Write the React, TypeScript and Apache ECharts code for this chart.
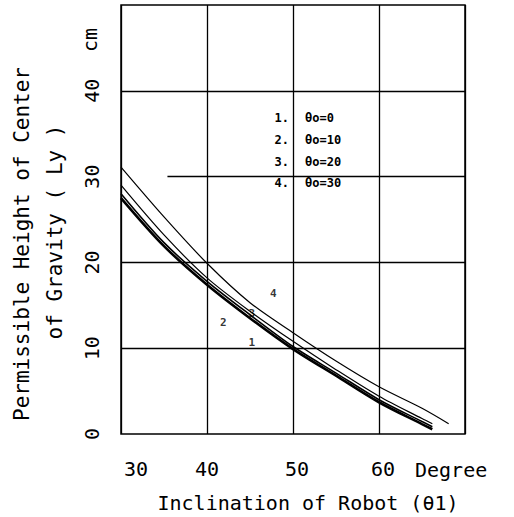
import React, { useEffect, useRef } from "react";
import * as echarts from "echarts";

const xTicks = [30, 40, 50, 60];
const yTicks = [0, 10, 20, 30, 40];

const curveX = [30, 35, 40, 45, 50, 55, 60, 65];
const curve1Y = [27.5, 21.9, 17.4, 13.5, 9.9, 6.8, 3.7, 1.15];
const curve2Y = [28.0, 22.3, 17.8, 13.9, 10.2, 7.1, 4.0, 1.45];
const curve3Y = [29.0, 23.2, 18.2, 14.3, 10.8, 7.5, 4.4, 1.8];
const curve4Y = [31.1, 25.3, 19.9, 15.3, 11.8, 8.5, 5.5, 3.0];
const curveEnds = [
  [66.2, 0.55],
  [66.2, 0.85],
  [66.2, 1.2],
  [68.1, 1.2],
];
const curveWidths = [2.6, 1.6, 1.2, 1.2];

const curveNumbers = ["1", "2", "3", "4"];
const curveLabelX = [45.2, 41.9, 45.2, 47.7];
const curveLabelY = [10.7, 13.0, 14.1, 16.4];

const legendNumbers = ["1.", "2.", "3.", "4."];
const legendLabels = ["θo=0", "θo=10", "θo=20", "θo=30"];

const fullGridY = [10, 20, 40];
const partialGridY = 30;
const partialGridStartX = 35.4;

const xTitle = "Inclination of Robot (θ1)";
const yTitle1 = "Permissible Height of Center";
const yTitle2 = "of Gravity ( Ly )";

const FONT = "DejaVu Sans Mono";

export default function App() {
  const ref = useRef<HTMLDivElement>(null);
  useEffect(() => {
    if (!ref.current) return;
    const chart = echarts.init(ref.current, null, { renderer: "svg" });
    const curves = [curve1Y, curve2Y, curve3Y, curve4Y];
    const series: any[] = curves.map((ys, i) => ({
      type: "line",
      name: legendLabels[i],
      data: [...curveX.map((x, j) => [x, ys[j]]), curveEnds[i]],
      smooth: 0.3,
      showSymbol: false,
      symbol: "none",
      lineStyle: { color: "#000", width: curveWidths[i] },
      silent: true,
      z: 3,
    }));
    series.push({
      type: "scatter",
      data: curveNumbers.map((n, i) => [curveLabelX[i], curveLabelY[i], n]),
      symbolSize: 0,
      silent: true,
      label: {
        show: true,
        position: "inside",
        formatter: (p: any) => p.data[2],
        color: "#000",
        fontFamily: FONT,
        fontWeight: "bold",
        fontSize: 11,
      },
      markLine: {
        silent: true,
        symbol: "none",
        label: { show: false },
        lineStyle: { color: "#000", width: 1.3, type: "solid" },
        data: [
          ...fullGridY.map((v) => ({ yAxis: v })),
          [
            { coord: [partialGridStartX, partialGridY] },
            { coord: [70, partialGridY] },
          ],
        ],
      },
    });

    const graphic: any[] = [];
    legendNumbers.forEach((n, i) => {
      const y = 118 + i * 21.8;
      graphic.push({
        type: "text",
        x: 289,
        y,
        style: {
          text: n,
          font: `bold 12px "${FONT}"`,
          fill: "#000",
          align: "right",
          verticalAlign: "middle",
        },
      });
      graphic.push({
        type: "text",
        x: 305,
        y,
        style: {
          text: legendLabels[i],
          font: `bold 12px "${FONT}"`,
          fill: "#000",
          align: "left",
          verticalAlign: "middle",
        },
      });
    });
    graphic.push({
      type: "text",
      x: 308,
      y: 503,
      style: {
        text: xTitle,
        font: `20px "${FONT}"`,
        fill: "#000",
        align: "center",
        verticalAlign: "middle",
      },
    });
    graphic.push({
      type: "text",
      x: 415,
      y: 470,
      style: {
        text: "Degree",
        font: `20px "${FONT}"`,
        fill: "#000",
        align: "left",
        verticalAlign: "middle",
      },
    });
    graphic.push({
      type: "text",
      x: 22,
      y: 421,
      rotation: Math.PI / 2,
      style: {
        text: yTitle1,
        font: `21px "${FONT}"`,
        fill: "#000",
        align: "left",
        verticalAlign: "middle",
      },
    });
    graphic.push({
      type: "text",
      x: 55,
      y: 232,
      rotation: Math.PI / 2,
      style: {
        text: yTitle2,
        font: `21px "${FONT}"`,
        fill: "#000",
        align: "center",
        verticalAlign: "middle",
      },
    });
    graphic.push({
      type: "text",
      x: 90,
      y: 40,
      rotation: Math.PI / 2,
      style: {
        text: "cm",
        font: `20px "${FONT}"`,
        fill: "#000",
        align: "center",
        verticalAlign: "middle",
      },
    });

    chart.setOption({
      animation: false,
      backgroundColor: "#fff",
      grid: {
        left: 121,
        right: 49,
        top: 5,
        bottom: 83,
        show: true,
        borderColor: "#000",
        borderWidth: 1.5,
        backgroundColor: "transparent",
      },
      xAxis: {
        type: "value",
        min: 30,
        max: 70,
        interval: 10,
        axisLine: { show: false },
        axisTick: { show: false },
        splitLine: { show: true, lineStyle: { color: "#000", width: 1.3 } },
        axisLabel: {
          margin: 25,
          color: "#000",
          fontFamily: FONT,
          fontSize: 20,
          formatter: (v: number) => {
            if (!xTicks.includes(v)) return "";
            if (v === 30) return `{a|${v}}`;
            if (v === 40) return `${v}`;
            return `{b|${v}}`;
          },
          rich: {
            a: { fontFamily: FONT, fontSize: 20, color: "#000", padding: [0, 0, 0, 30] },
            b: { fontFamily: FONT, fontSize: 20, color: "#000", padding: [0, 0, 0, 8] },
          },
        },
      },
      yAxis: {
        type: "value",
        min: 0,
        max: 50,
        interval: 10,
        axisLine: { show: false },
        axisTick: { show: false },
        splitLine: { show: false },
        axisLabel: {
          rotate: 90,
          margin: 19,
          color: "#000",
          fontFamily: FONT,
          fontSize: 20,
          formatter: (v: number) => (yTicks.includes(v) ? `${v}` : ""),
        },
      },
      series,
      graphic,
    });
    return () => chart.dispose();
  }, []);
  return (
    <div
      ref={ref}
      style={{ position: "fixed", left: 0, top: 0, width: 514, height: 517, background: "#fff" }}
    />
  );
}
